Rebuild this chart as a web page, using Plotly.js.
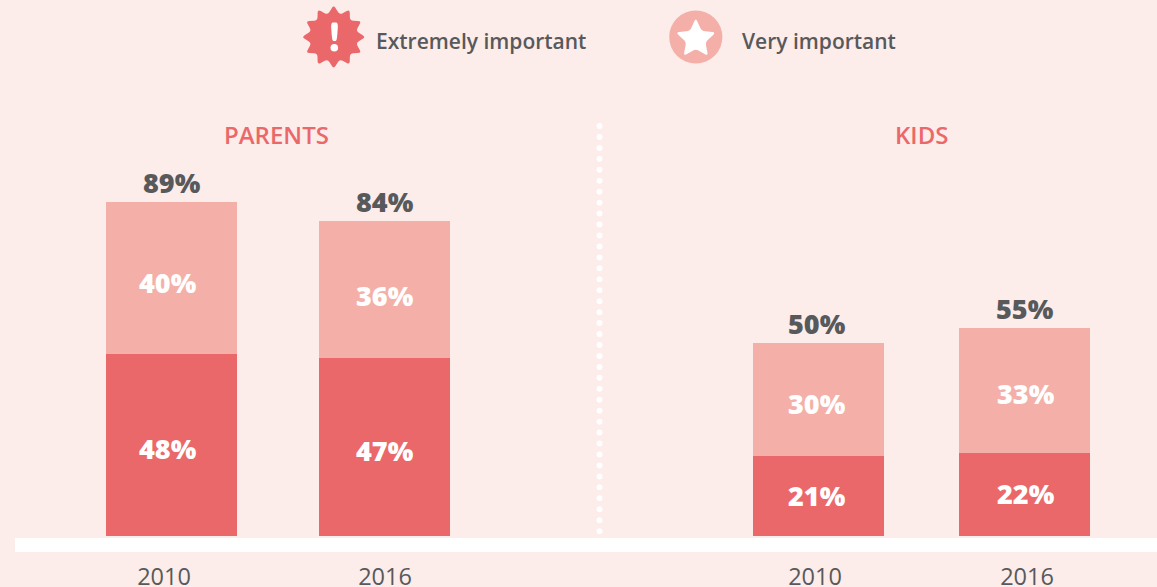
<!DOCTYPE html>
<html><head><meta charset="utf-8">
<script src="https://cdn.plot.ly/plotly-3.0.1.min.js"></script>
<style>html,body{margin:0;padding:0;background:#fcecea;overflow:hidden}#c{width:1157px;height:587px}</style>
</head><body><div id="c"></div>
<script>
const years = ['2010', '2016'];
const parentsExtremely = [48, 47];
const parentsVery = [40, 36];
const parentsTotal = [89, 84];
const kidsExtremely = [21, 22];
const kidsVery = [30, 33];
const kidsTotal = [50, 55];

const W = 1157, H = 587, BASE = 536;
const RED = '#eb686a', PINK = '#f4b0a8', BG = '#fcecea', DARK = '#58595b';
const FONT = '"Open Sans", Lato, sans-serif';
const px = x => x / W, py = y => 1 - y / BASE;

function bar(x, ax, y, color, name, w) {
  return {type: 'bar', x: x, y: y, xaxis: ax, yaxis: 'y', name: name, width: w,
    marker: {color: color, line: {width: 0}}, hoverinfo: 'x+y+name', showlegend: false};
}
const traces = [
  bar(years, 'x', parentsExtremely, RED, 'Extremely important', 131 / 213),
  bar(years, 'x', parentsVery, PINK, 'Very important', 131 / 213),
  bar(years, 'x2', kidsExtremely, RED, 'Extremely important', 131 / 206),
  bar(years, 'x2', kidsVery, PINK, 'Very important', 131 / 206)
];

const annotations = [];
function inner(ax, vals, base, xs, ys) {
  vals.forEach((v, i) => annotations.push({xref: ax, yref: 'y', x: i, y: base[i] + v / 2,
    xshift: xs[i], yshift: ys[i], text: v + '%', showarrow: false,
    font: {family: FONT, size: 27, color: '#ffffff', weight: 800}}));
}
function total(ax, vals, tops, xs) {
  vals.forEach((v, i) => annotations.push({xref: ax, yref: 'y', x: i, y: tops[i], yanchor: 'bottom', xshift: xs[i], yshift: -1,
    text: v + '%', showarrow: false,
    font: {family: FONT, size: 27, color: DARK, weight: 800}}));
}
inner('x', parentsExtremely, [0, 0], [-4, 0], [-3, -4]);
inner('x', parentsVery, parentsExtremely, [-4, 0], [-4, -6]);
inner('x2', kidsExtremely, [0, 0], [-1.5, 1.5], [1, 1]);
inner('x2', kidsVery, kidsExtremely, [-1.5, 1.5], [-4, -3]);
total('x', parentsTotal, parentsExtremely.map((v, i) => v + parentsVery[i]), [0, 0.5]);
total('x2', kidsTotal, kidsExtremely.map((v, i) => v + kidsVery[i]), [-1.5, 0.5]);

function label(text, x, y, size, color, anchor, weight) {
  annotations.push({xref: 'paper', yref: 'paper', x: px(x), y: py(y), text: text, showarrow: false,
    xanchor: anchor || 'center', yanchor: 'middle', font: {family: FONT, size: size, color: color, weight: weight || 400}});
}
label('PARENTS', 276.5, 134.5, 24, RED, 'center', 600);
label('KIDS', 921, 134.5, 24, RED, 'center', 600);
label('Extremely important', 374, 41, 21, DARK, 'left', 600);
label('Very important', 739.5, 41, 21, DARK, 'left', 600);

const shapes = [];
function rect(x0, y0, x1, y1, c) {
  shapes.push({type: 'rect', xref: 'paper', yref: 'paper', x0: px(x0), x1: px(x1), y0: py(y0), y1: py(y1),
    fillcolor: c, line: {width: 0}, layer: 'above'});
}
function circle(cx, cy, r, c) {
  shapes.push({type: 'circle', xref: 'paper', yref: 'paper', x0: px(cx - r), x1: px(cx + r), y0: py(cy - r), y1: py(cy + r),
    fillcolor: c, line: {width: 0}, layer: 'above'});
}
// closed polygon with rounded corners, pts in page pixels
function rounded(pts, t, c) {
  const n = pts.length, P = p => px(p[0]) + ',' + py(p[1]);
  const mix = (a, b, k) => [a[0] + (b[0] - a[0]) * k, a[1] + (b[1] - a[1]) * k];
  let d = '';
  pts.forEach((p, i) => {
    const prev = pts[(i + n - 1) % n], next = pts[(i + 1) % n];
    d += (i ? 'L' : 'M') + P(mix(p, prev, t)) + 'Q' + P(p) + ' ' + P(mix(p, next, t));
  });
  shapes.push({type: 'path', xref: 'paper', yref: 'paper', path: d + 'Z', fillcolor: c, line: {width: 0}, layer: 'above'});
}
function starPts(n, cx, cy, rOut, rIn) {
  const out = [];
  for (let i = 0; i < 2 * n; i++) {
    const r = i % 2 ? rIn : rOut, a = -Math.PI / 2 + i * Math.PI / n;
    out.push([cx + r * Math.cos(a), cy + r * Math.sin(a)]);
  }
  return out;
}
// white base band
rect(15, 538, W, 552, '#ffffff');
// dotted divider
for (let k = 0; k <= 37; k++) circle(599.5, 126 + k * 10.95, 3, '#ffffff');
// legend icons
rounded(starPts(12, 333.7, 37, 32, 23), 0.3, RED);
rounded([[330.8, 22.5], [338.2, 22.5], [336.8, 41], [332.2, 41]], 0.3, '#ffffff');
circle(334.3, 47.7, 3.8, '#ffffff');
circle(695.8, 37, 26.6, PINK);
rounded(starPts(5, 695.8, 39, 21, 10), 0.25, '#ffffff');

const xCommon = {type: 'category', showgrid: false, zeroline: false, showline: false, ticks: '', tickmode: 'array',
  ticktext: years, ticklabelstandoff: 24, tickfont: {family: FONT, size: 23.5, color: DARK}, fixedrange: true, anchor: 'y'};
const layout = {
  width: W, height: H, barmode: 'stack', bargap: 0,
  paper_bgcolor: BG, plot_bgcolor: 'rgba(0,0,0,0)',
  margin: {l: 0, r: 0, t: 0, b: H - BASE, pad: 0},
  font: {family: FONT, color: DARK},
  showlegend: false,
  xaxis: Object.assign({}, xCommon, {domain: [0, 600 / W], range: [(0 - 171.5) / 213, (600 - 171.5) / 213],
    tickvals: [-7.5 / 213, 1 + 0.5 / 213]}),
  xaxis2: Object.assign({}, xCommon, {domain: [600 / W, 1], range: [(600 - 818.5) / 206, (W - 818.5) / 206],
    tickvals: [-3.5 / 206, 1 + 2.5 / 206]}),
  yaxis: {range: [0, BASE / 3.79], showgrid: false, zeroline: false, showline: false, showticklabels: false, ticks: '', fixedrange: true},
  annotations: annotations, shapes: shapes
};
Plotly.newPlot('c', traces, layout, {displayModeBar: false, responsive: false});
</script></body></html>
